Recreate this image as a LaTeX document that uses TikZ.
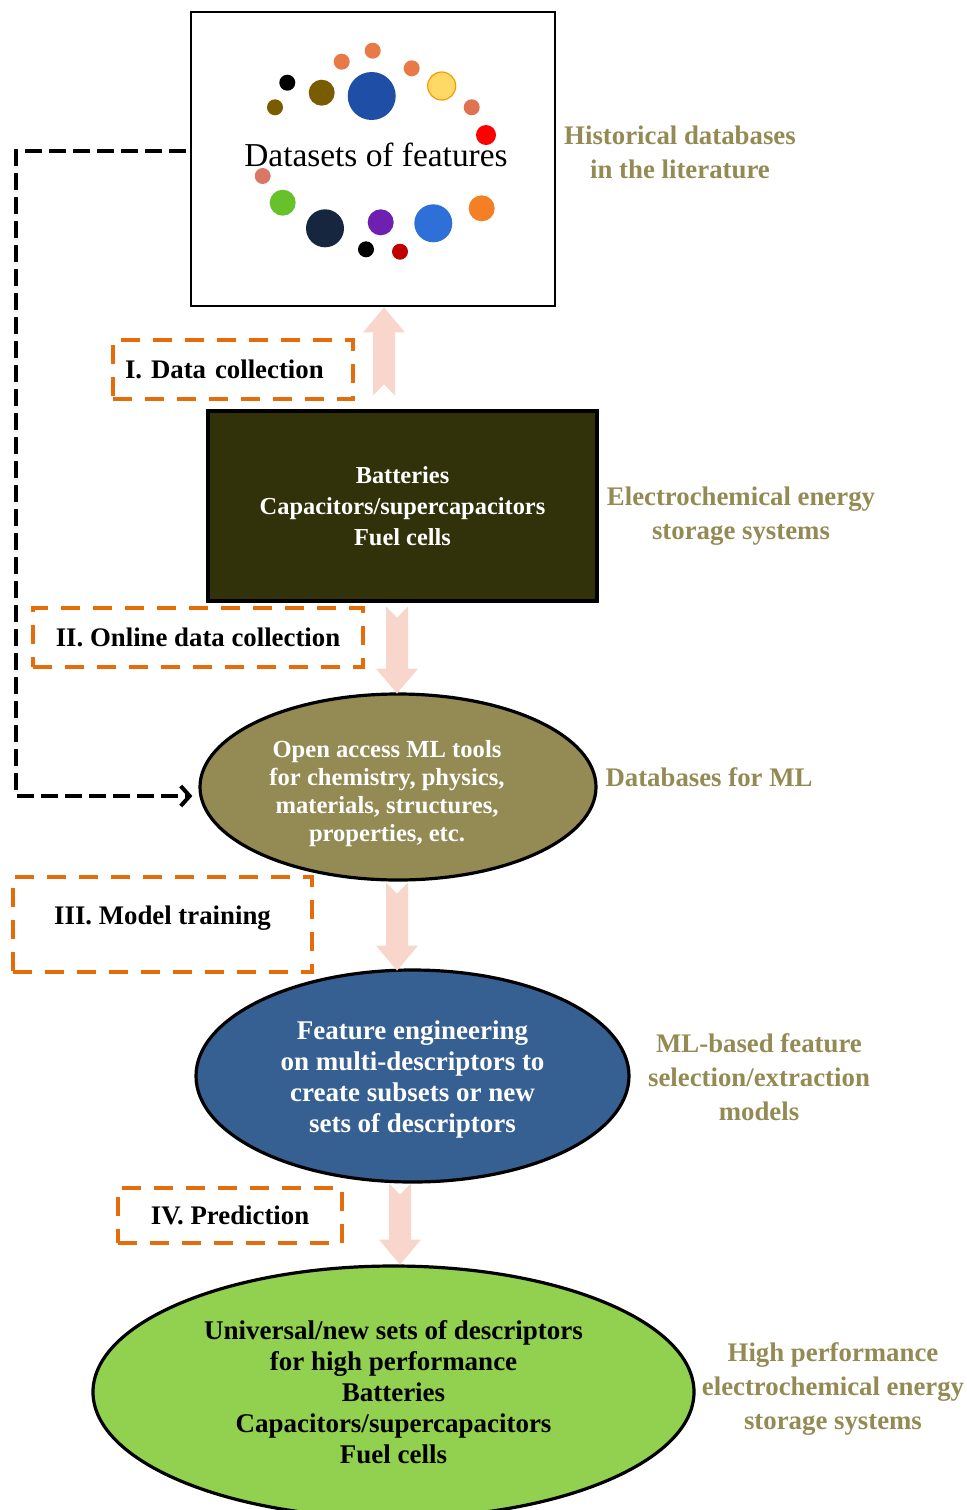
\documentclass[tikz,border=0pt]{standalone}
\usepackage{fontspec}
\setmainfont{Liberation Serif}
\usepackage{tikz}
\usetikzlibrary{shapes.geometric,arrows.meta}

\definecolor{phaseorange}{HTML}{E46C0A}
\definecolor{sideolive}{HTML}{948A54}
\definecolor{ecsfill}{HTML}{31310A}
\definecolor{dbmlfill}{HTML}{948A54}
\definecolor{fefill}{HTML}{376092}
\definecolor{hpfill}{HTML}{92D050}
\definecolor{arrowpink}{HTML}{F8D6CB}
\definecolor{dotorange}{HTML}{E87A48}
\definecolor{dotbrown}{HTML}{7A5C00}
\definecolor{dotblue}{HTML}{1F4EA6}
\definecolor{dotyellow}{HTML}{FFD966}
\definecolor{dotsalmon}{HTML}{E07252}
\definecolor{dotpink}{HTML}{D9776A}
\definecolor{dotgreen}{HTML}{66C12B}
\definecolor{dotnavy}{HTML}{17263F}
\definecolor{dotpurple}{HTML}{7020B0}
\definecolor{dotdarkred}{HTML}{C00000}
\definecolor{dotsky}{HTML}{2E6FD8}
\definecolor{dotamber}{HTML}{F47F25}

\tikzset{
  phase/.style={draw=phaseorange, line width=1.6pt, dash pattern=on 9.5pt off 6.5pt,
    inner sep=0pt, align=center, font=\fontsize{13.4}{16}\selectfont\bfseries},
  side/.style={text=sideolive, align=center, font=\fontsize{13.4}{17}\selectfont\bfseries},
  blob/.style={ellipse, draw, line width=1.6pt, inner sep=0pt, align=center,
    font=\fontsize{13.5}{15.5}\selectfont\bfseries},
  pics/notcharrow/.style={code={
    \fill[arrowpink] (-11,0) -- (0,11) -- (11,0) -- (11,#1-25) -- (21,#1-25)
      -- (0,#1) -- (-21,#1-25) -- (-11,#1-25) -- cycle;
  }}
}

\begin{document}
\begin{tikzpicture}[x=0.5pt,y=-0.5pt]
    \useasboundingbox (0,0) rectangle (966,1510);

    % datasets box and its dots
    \node[draw, line width=0.8pt, minimum width=182pt, minimum height=147pt, text depth=4pt,
      font=\fontsize{16.7}{20}\selectfont] (datasets) at (373,159) {\hspace*{3pt}Datasets of features};
    \foreach \px/\py/\r/\c in {341.7/61.7/4/dotorange, 372.7/50.7/4/dotorange,
        411.7/68.3/4/dotorange, 287.3/82.7/4/black, 275/107.3/4/dotbrown,
        321.7/92.7/6.5/dotbrown, 371.7/96/12/dotblue, 471.7/107.3/4/dotsalmon,
        486/135/5/red, 262.7/176/4/dotpink, 282.7/202.7/6.5/dotgreen,
        325/228.3/9.5/dotnavy, 380.7/222.3/6.5/dotpurple, 366/249.3/4/black,
        400/251.7/4/dotdarkred, 433.3/223.3/9.5/dotsky, 481.7/208.3/6.5/dotamber}
      \fill[\c] (\px,\py) circle[radius=\r pt];
    \filldraw[fill=dotyellow, draw=orange!80!yellow, line width=0.6pt] (441.7,86) circle[radius=7pt];

    % main chain
    \node[draw, line width=1.6pt, fill=ecsfill, text=white, align=center, minimum width=194.5pt,
      minimum height=95pt, font=\fontsize{12.2}{15.5}\selectfont\bfseries] (ecs) at (402.5,506)
      {Batteries\\Capacitors/supercapacitors\\Fuel cells};
    \node[blob, fill=dbmlfill, text=white, minimum width=198pt, minimum height=93pt,
      font=\fontsize{12.3}{14}\selectfont\bfseries] (dbml) at (398,787)
      {\begin{tabular}{@{}c@{\hspace{11pt}}}
         \rule{0pt}{16.8pt}Open access ML tools\\ for chemistry, physics,\\
         materials, structures,\\ properties, etc.
       \end{tabular}};
    \node[blob, fill=fefill, text=white, minimum width=216.5pt, minimum height=106pt] (fe) at (412.5,1076)
      {\rule{0pt}{12.4pt}Feature engineering\\on multi-descriptors to\\create subsets or new\\sets of descriptors};
    \node[blob, fill=hpfill, minimum width=300.5pt, minimum height=126pt] (hp) at (393.5,1392)
      {Universal/new sets of descriptors\\for high performance\\Batteries\\Capacitors/supercapacitors\\Fuel cells};

    % block arrows
    \path (ecs.north) ++(-18.5,-14) pic[yscale=-1] {notcharrow=88};
    \path (ecs.south) ++(-5.5,4) pic {notcharrow=87};
    \path (dbml.south) ++(-1,1) pic {notcharrow=88};
    \path (fe.south) ++(-12.5,0) pic {notcharrow=81};

    % phases
    \node[phase, minimum width=120pt, minimum height=29.5pt, text width=108pt, align=left] (data) at (233,369.5) {I. Data collection};
    \node[phase, minimum width=165pt, minimum height=29.5pt] (online) at (198,637.5) {II. Online data collection};
    \node[phase, minimum width=149.5pt, minimum height=47.5pt, text height=13pt, text depth=13.1pt] (train) at (162.5,924.5) {III. Model training};
    \node[phase, minimum width=112pt, minimum height=27.5pt] (predict) at (230,1215.5) {IV. Prediction};

    % online link
    \draw[line width=2pt, dash pattern=on 8.5pt off 3.5pt, -{Straight Barb[length=4.5pt,width=10pt]}]
      ([shift={(-2pt,4pt)}]datasets.west) -- ++(-170,0) |- ([shift={(-3pt,-4.5pt)}]dbml.west);

    % side labels
    \node[side] (histlabel) at (680,152.5) {Historical databases\\in the literature};
    \node[side] (ecslabel) at (741,516.5) {Electrochemical energy\\storage systems};
    \node[side] (dbmllabel) at (709,777) {Databases for ML};
    \node[side] (mllabel) at (759,1077.5) {ML-based feature\\selection/extraction\\models};
    \node[side] (hplabel) at (833,1389.5) {High performance\\electrochemical energy\\storage systems};
\end{tikzpicture}
\end{document}
